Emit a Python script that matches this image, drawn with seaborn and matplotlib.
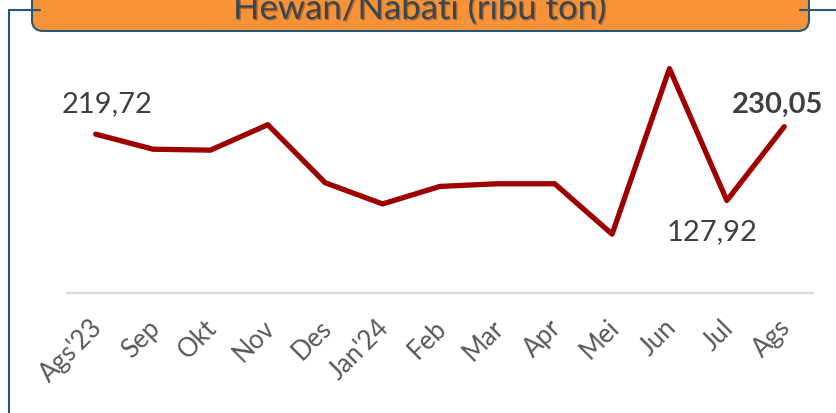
import numpy as np
import pandas as pd
import matplotlib
matplotlib.use("Agg")
import matplotlib.pyplot as plt
import matplotlib.transforms as mtransforms
import matplotlib.patheffects as pe
from matplotlib.patches import FancyBboxPatch
from matplotlib.lines import Line2D
import seaborn as sns

# ---------- Data (ribu ton) ----------
months = ["Ags'23", "Sep", "Okt", "Nov", "Des", "Jan'24", "Feb",
          "Mar", "Apr", "Mei", "Jun", "Jul", "Ags"]
values = [219.72, 198.9, 197.6, 232.8, 152.5, 123.2, 147.4,
          151.1, 151.1, 81.4, 310.4, 127.92, 230.05]
title_text = "Hewan/Nabati (ribu ton)"

df = pd.DataFrame({"pos": np.arange(len(months)), "bulan": months, "nilai": values})

# ---------- Style ----------
sns.set_style("white")
plt.rcParams["font.family"] = ["Lato", "DejaVu Sans"]

LINE_RED = "#9E0000"
TEXT_DARK = "#404040"
TICK_GRAY = "#595959"
FRAME = "#255872"
ORANGE = "#F79239"

fig = plt.figure(figsize=(8.36, 4.13), dpi=100)
ax = fig.add_axes([0.0801, 0.2906, 0.8923, 0.6126])

sns.lineplot(data=df, x="pos", y="nilai", color=LINE_RED, linewidth=3.8,
             sort=False, ax=ax, solid_capstyle="round", solid_joinstyle="round")

ax.set_xlim(-0.5, len(months) - 0.5)
ax.set_ylim(0, 350)
ax.set_xlabel("")
ax.set_ylabel("")
ax.set_yticks([])
ax.set_xticks(df["pos"])
ax.set_xticklabels(months, rotation=45, ha="right", rotation_mode="anchor",
                   fontsize=18.5, color=TICK_GRAY)
ax.tick_params(axis="x", length=0, pad=16)
shift = mtransforms.ScaledTranslation(-6 / 100, 0, fig.dpi_scale_trans)
for lbl in ax.get_xticklabels():
    lbl.set_transform(lbl.get_transform() + shift)
for s in ["top", "right", "left"]:
    ax.spines[s].set_visible(False)
ax.spines["bottom"].set_color("#D9D9D9")
ax.spines["bottom"].set_linewidth(1.6)

# data labels
first, last = 0, len(months) - 1
jul = months.index("Jul")
ax.annotate(f"{values[first]:.2f}".replace(".", ","), (first, values[first]),
            xytext=(8.5, 21.5), textcoords="offset points", ha="center", va="center",
            fontsize=21, color=TEXT_DARK)
ax.annotate(f"{values[jul]:.2f}".replace(".", ","), (jul, values[jul]),
            xytext=(-11, -23), textcoords="offset points", ha="center", va="center",
            fontsize=21, color=TEXT_DARK)
ax.annotate(f"{values[last]:.2f}".replace(".", ","), (last, values[last]),
            xytext=(-5, 16), textcoords="offset points", ha="center", va="center",
            fontsize=21, color=TEXT_DARK, fontweight="bold")

# ---------- Frame and title box (pixel coordinates) ----------
px = mtransforms.IdentityTransform()
H = 413
fig.add_artist(Line2D([8.5, 8.5], [0, H - 9.5], transform=px, color=FRAME, lw=1.5))
fig.add_artist(Line2D([8.5, 40], [H - 9.5, H - 9.5], transform=px, color=FRAME, lw=1.5))
fig.add_artist(Line2D([800, 836], [H - 9.5, H - 9.5], transform=px, color=FRAME, lw=1.5))
box = FancyBboxPatch((32, H - 31), 777, 60, boxstyle="round,pad=0,rounding_size=11",
                     transform=px, facecolor=ORANGE, edgecolor=FRAME, lw=1.5)
fig.add_artist(box)
fig.text(420 / 836, (H - 19) / H, title_text, ha="center", va="baseline",
         fontsize=25, color="#3A4750",
         path_effects=[pe.withSimplePatchShadow(offset=(1, -1), alpha=0.3)])

fig.savefig("out.png", dpi=100)
